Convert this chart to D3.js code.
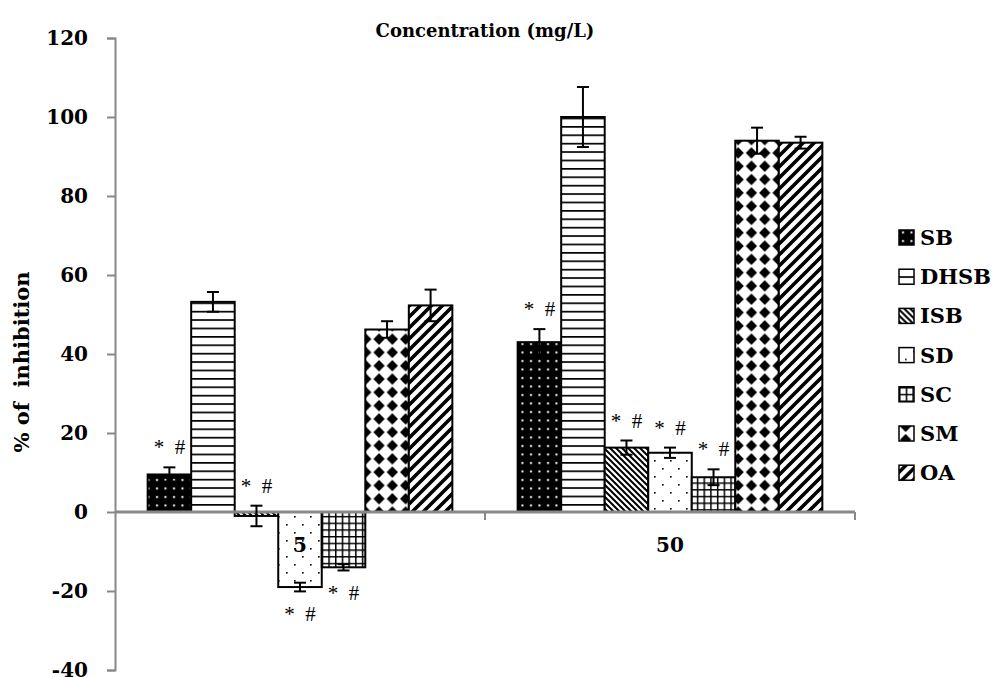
<!DOCTYPE html>
<html>
<head>
<meta charset="utf-8">
<script src="https://cdn.jsdelivr.net/npm/d3@7"></script>
<style>
body { margin: 0; background: #fff; }
svg { display: block; }
text { font-family: "DejaVu Serif", serif; }
</style>
</head>
<body>
<div id="chart"></div>
<script>
var categories = ["5", "50"];
var seriesNames = ["SB", "DHSB", "ISB", "SD", "SC", "SM", "OA"];
var values5 = [9.5, 53.2, -1.0, -19.0, -14.0, 46.2, 52.3];
var values50 = [43.0, 100.0, 16.3, 15.0, 8.8, 94.0, 93.5];
var errors5 = [1.8, 2.5, 2.6, 1.1, 0.8, 2.1, 4.0];
var errors50 = [3.3, 7.6, 1.8, 1.3, 2.0, 3.3, 1.5];
var marked5 = [true, false, true, true, true, false, false];
var marked50 = [true, false, true, true, true, false, false];
var yTicks = [-40, -20, 0, 20, 40, 60, 80, 100, 120];

var width = 1001, height = 677;
var margin = {left: 115, right: 146};

var svg = d3.select("#chart").append("svg")
	.attr("width", width).attr("height", height);

var defs = svg.append("defs");

function makePattern(id, w, h, draw){
	var p = defs.append("pattern").attr("id", id)
		.attr("patternUnits", "userSpaceOnUse")
		.attr("width", w).attr("height", h);
	draw(p);
}
// SB: black with white dots
makePattern("pSB", 8.5, 8.5, function(p){
	p.append("rect").attr("width", 8.5).attr("height", 8.5).attr("fill", "#000");
	p.append("rect").attr("x", 3).attr("y", 3).attr("width", 2).attr("height", 2).attr("fill", "#fff");
});
// DHSB: horizontal lines
makePattern("pDHSB", 8, 8.4, function(p){
	p.append("rect").attr("width", 8).attr("height", 8.4).attr("fill", "#fff");
	p.append("rect").attr("y", 0).attr("width", 8).attr("height", 1.7).attr("fill", "#000");
});
// ISB: backslash diagonals
makePattern("pISB", 6, 6, function(p){
	p.append("rect").attr("width", 6).attr("height", 6).attr("fill", "#fff");
	p.append("path").attr("d", "M-1,-1 L7,7 M-4,2 L1,7 M2,-4 L7,1")
		.attr("stroke", "#000").attr("stroke-width", 2);
});
// SD: sparse dots
makePattern("pSD", 16, 16, function(p){
	p.append("rect").attr("width", 16).attr("height", 16).attr("fill", "#fff");
	p.append("rect").attr("x", 6).attr("y", 4).attr("width", 1.6).attr("height", 1.6).attr("fill", "#000");
	p.append("rect").attr("x", 14).attr("y", 12).attr("width", 1.6).attr("height", 1.6).attr("fill", "#000");
});
// SC: grid
makePattern("pSC", 6.7, 6.7, function(p){
	p.append("rect").attr("width", 6.7).attr("height", 6.7).attr("fill", "#fff");
	p.append("path").attr("d", "M0,0.75 H6.7 M0.75,0 V6.7")
		.attr("stroke", "#000").attr("stroke-width", 1.5);
});
// SM: black diamonds
makePattern("pSM", 13.3, 13.3, function(p){
	p.append("rect").attr("width", 13.3).attr("height", 13.3).attr("fill", "#fff");
	p.append("path").attr("d", "M6.65,1 L12.3,6.65 L6.65,12.3 L1,6.65 Z").attr("fill", "#000");
});
// OA: forward diagonals
makePattern("pOA", 11, 11, function(p){
	p.append("rect").attr("width", 11).attr("height", 11).attr("fill", "#fff");
	p.append("path").attr("d", "M-2,13 L13,-2 M-8,8 L8,-8 M3,19 L19,3")
		.attr("stroke", "#000").attr("stroke-width", 3.6);
});

var x0 = d3.scaleBand().domain(categories)
	.range([margin.left, width - margin.right]).paddingInner(0).paddingOuter(0);
var x1 = d3.scaleBand().domain(seriesNames)
	.range([0, x0.bandwidth()]).paddingInner(0).paddingOuter(0.75);
var y = d3.scaleLinear().domain([-40, 120]).range([670, 38]);

var data = [];
categories.forEach(function(c, ci){
	var vals = ci === 0 ? values5 : values50;
	var errs = ci === 0 ? errors5 : errors50;
	var marks = ci === 0 ? marked5 : marked50;
	seriesNames.forEach(function(s, si){
		data.push({cat: c, name: s, value: vals[si], err: errs[si], mark: marks[si]});
	});
});

// y axis
var yAxis = d3.axisLeft(y).tickValues(yTicks).tickSize(8).tickPadding(19)
	.tickFormat(function(d){ return String(d); });
var gy = svg.append("g").attr("transform", "translate(" + margin.left + ",0)").call(yAxis);
gy.select(".domain").attr("stroke", "#888").attr("stroke-width", 2);
gy.selectAll(".tick line").attr("stroke", "#888").attr("stroke-width", 2);
gy.selectAll(".tick text").attr("font-size", 20).attr("font-weight", "bold")
	.attr("fill", "#000").style("font-family", "'DejaVu Serif', serif");

// bars
var bars = svg.append("g");
bars.selectAll("rect").data(data).enter().append("rect")
	.attr("x", function(d){ return x0(d.cat) + x1(d.name); })
	.attr("y", function(d){ return y(Math.max(0, d.value)); })
	.attr("width", x1.bandwidth())
	.attr("height", function(d){ return Math.abs(y(d.value) - y(0)); })
	.attr("fill", function(d){ return "url(#p" + d.name + ")"; })
	.attr("stroke", "#000").attr("stroke-width", 2);

// x axis along zero
var xAxisG = svg.append("g");
xAxisG.append("line").attr("x1", margin.left).attr("x2", width - margin.right)
	.attr("y1", y(0)).attr("y2", y(0)).attr("stroke", "#888").attr("stroke-width", 3);
var bounds = [x0(categories[0]) + x0.bandwidth(), x0(categories[1]) + x0.bandwidth()];
xAxisG.selectAll("line.tk").data(bounds).enter().append("line").attr("class", "tk")
	.attr("x1", function(d){ return d; }).attr("x2", function(d){ return d; })
	.attr("y1", y(0)).attr("y2", y(0) + 8).attr("stroke", "#888").attr("stroke-width", 2);
xAxisG.selectAll("text").data(categories).enter().append("text")
	.attr("x", function(d){ return x0(d) + x0.bandwidth() / 2; })
	.attr("y", y(0) + 40)
	.attr("text-anchor", "middle").attr("font-size", 20).attr("font-weight", "bold")
	.text(function(d){ return d; });

// error bars
var eb = svg.append("g").attr("stroke", "#000").attr("stroke-width", 2);
data.forEach(function(d){
	var cx = x0(d.cat) + x1(d.name) + x1.bandwidth() / 2;
	var y1 = y(d.value + d.err), y2 = y(d.value - d.err);
	eb.append("line").attr("x1", cx).attr("x2", cx).attr("y1", y1).attr("y2", y2);
	eb.append("line").attr("x1", cx - 6).attr("x2", cx + 6).attr("y1", y1).attr("y2", y1);
	eb.append("line").attr("x1", cx - 6).attr("x2", cx + 6).attr("y1", y2).attr("y2", y2);
});

// significance marks: above the error bar unless the whole bar sits below zero
svg.append("g").selectAll("text").data(data.filter(function(d){ return d.mark; })).enter().append("text")
	.attr("x", function(d){ return x0(d.cat) + x1(d.name) + x1.bandwidth() / 2; })
	.attr("y", function(d){
		if (d.value + d.err < 0) return y(d.value - d.err) + 30;
		return y(d.value + d.err) - 13;
	})
	.attr("text-anchor", "middle").attr("font-size", 21).attr("fill", "#000")
	.style("font-family", "'Liberation Serif', serif")
	.style("white-space", "pre")
	.text("*  #");

// title
svg.append("text").attr("x", 485).attr("y", 37).attr("text-anchor", "middle")
	.attr("font-size", 18).attr("font-weight", "bold")
	.text("Concentration (mg/L)");

// y label
svg.append("text").attr("transform", "translate(29," + y(38) + ") rotate(-90)")
	.attr("text-anchor", "middle").attr("font-size", 21).attr("font-weight", "bold")
	.style("white-space", "pre")
	.text("% of  inhibition");

// legend
var legend = svg.append("g").attr("transform", "translate(899,237)");
var lg = legend.selectAll("g").data(seriesNames).enter().append("g")
	.attr("transform", function(d, i){ return "translate(0," + (i * 39.2) + ")"; });
lg.append("rect").attr("x", 0).attr("y", -7).attr("width", 15).attr("height", 15)
	.attr("fill", function(d){ return "url(#p" + d + ")"; })
	.attr("stroke", "#000").attr("stroke-width", 1.5);
lg.append("text").attr("x", 21).attr("y", 8).attr("font-size", 21).attr("font-weight", "bold")
	.text(function(d){ return d; });
</script>
</body>
</html>
